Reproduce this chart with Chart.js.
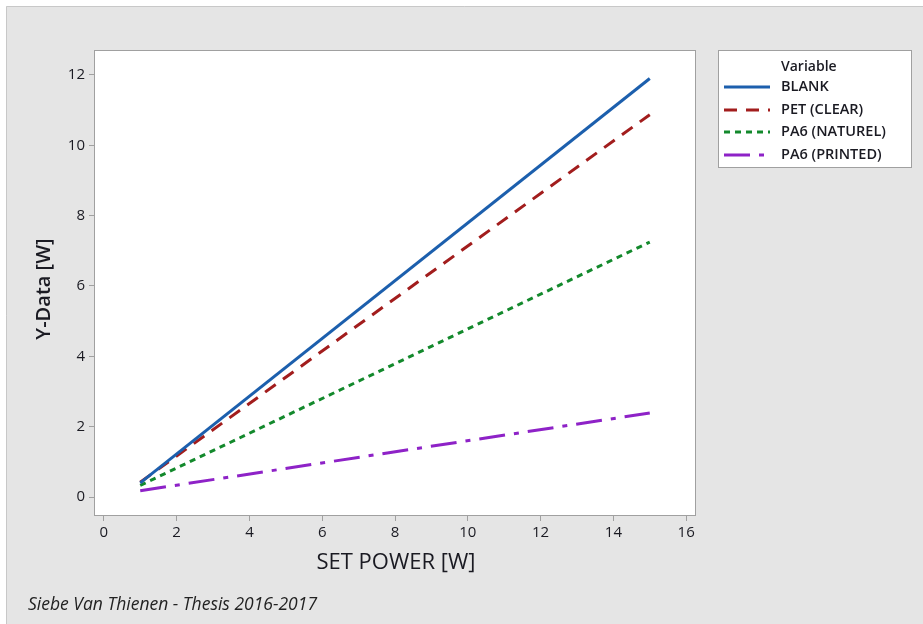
<!DOCTYPE html>
<html>
<head>
<meta charset="utf-8">
<script src="https://cdn.jsdelivr.net/npm/chart.js@4/dist/chart.umd.min.js"></script>
<style>
  html, body { margin: 0; padding: 0; background: #ffffff; }
  #wrap { position: absolute; left: 0; top: 0; width: 923px; height: 624px; }
</style>
</head>
<body>
<div id="wrap"><canvas id="c" width="923" height="624"></canvas></div>
<script>
// Set power values (W) at which each fitted line is evaluated
const setPower = [1, 15];

// Measured output power (W) for each sample
const blank = [0.40, 11.90];
const petClear = [0.42, 10.87];
const pa6Naturel = [0.33, 7.25];
const pa6Printed = [0.18, 2.39];

const seriesNames = ['BLANK', 'PET (CLEAR)', 'PA6 (NATUREL)', 'PA6 (PRINTED)'];
const xTicks = [0, 2, 4, 6, 8, 10, 12, 14, 16];
const yTicks = [0, 2, 4, 6, 8, 10, 12];

const FONT = '"Open Sans", "Noto Sans", "DejaVu Sans", sans-serif';
const TEXT = '#1a1a22';
const FRAME = '#a0a0a0';

const toPoints = (ys) => setPower.map((x, i) => ({ x: x, y: ys[i] }));

const styles = [
  { color: '#1c5fad', dash: [] },
  { color: '#a21d1d', dash: [13, 9] },
  { color: '#13892c', dash: [6, 5] },
  { color: '#8e22c7', dash: [26, 9, 5, 9] }
];
const values = [blank, petClear, pa6Naturel, pa6Printed];

const datasets = values.map((v, i) => ({
  label: seriesNames[i],
  data: toPoints(v),
  borderColor: styles[i].color,
  backgroundColor: styles[i].color,
  borderDash: styles[i].dash,
  borderWidth: 3,
  pointRadius: 0,
  fill: false,
  tension: 0
}));

// Page background, outer frame, axis titles, footer and legend box
const decorations = {
  id: 'decorations',
  beforeDraw(chart) {
    const ctx = chart.ctx;
    ctx.save();
    ctx.fillStyle = '#ffffff';
    ctx.fillRect(0, 0, chart.width, chart.height);
    ctx.fillStyle = '#e5e5e5';
    ctx.fillRect(6, 6, chart.width - 6, chart.height - 6);
    ctx.strokeStyle = '#c8c8c8';
    ctx.lineWidth = 1;
    ctx.beginPath();
    ctx.moveTo(6.5, chart.height);
    ctx.lineTo(6.5, 6.5);
    ctx.lineTo(chart.width, 6.5);
    ctx.stroke();
    const a = chart.chartArea;
    ctx.fillStyle = '#ffffff';
    ctx.fillRect(a.left, a.top, a.right - a.left, a.bottom - a.top);
    ctx.restore();
  },
  afterDraw(chart) {
    const ctx = chart.ctx;
    const a = chart.chartArea;
    ctx.save();
    // plot frame
    ctx.strokeStyle = FRAME;
    ctx.lineWidth = 1;
    ctx.strokeRect(a.left + 0.5, a.top + 0.5, a.right - a.left - 1, a.bottom - a.top - 1);

    // axis titles
    ctx.fillStyle = TEXT;
    ctx.font = '22px ' + FONT;
    ctx.textAlign = 'center';
    ctx.textBaseline = 'middle';
    ctx.fillText('SET POWER [W]', (a.left + a.right) / 2 + 1, 563);
    ctx.save();
    ctx.translate(44, (a.top + a.bottom) / 2 + 6);
    ctx.rotate(-Math.PI / 2);
    ctx.font = '600 20px ' + FONT;
    ctx.fillText('Y-Data [W]', 0, 0);
    ctx.restore();

    // footer
    ctx.font = 'italic 17.5px ' + FONT;
    ctx.textAlign = 'left';
    ctx.fillStyle = '#222222';
    ctx.fillText('Siebe Van Thienen - Thesis 2016-2017', 28, 605);

    // legend
    const lx = 718, ly = 50, lw = 194, lh = 118;
    ctx.fillStyle = '#ffffff';
    ctx.fillRect(lx, ly, lw, lh);
    ctx.strokeStyle = FRAME;
    ctx.strokeRect(lx + 0.5, ly + 0.5, lw - 1, lh - 1);
    ctx.fillStyle = TEXT;
    ctx.font = '600 14px ' + FONT;
    ctx.textAlign = 'left';
    ctx.fillText('Variable', 781, 67);
    ctx.font = '600 14.5px ' + FONT;
    const rows = [87, 110, 132, 155];
    chart.data.datasets.forEach((ds, i) => {
      const y = rows[i];
      ctx.strokeStyle = ds.borderColor;
      ctx.lineWidth = 3;
      ctx.setLineDash(ds.borderDash);
      ctx.beginPath();
      ctx.moveTo(724, y);
      ctx.lineTo(770, y);
      ctx.stroke();
      ctx.setLineDash([]);
      ctx.fillStyle = TEXT;
      ctx.fillText(ds.label, 781, y);
    });
    ctx.restore();
  }
};

new Chart(document.getElementById('c'), {
  type: 'line',
  data: { datasets: datasets },
  options: {
    responsive: false,
    animation: false,
    layout: { padding: { left: 0, top: 50, right: 227, bottom: 48 } },
    plugins: { legend: { display: false }, tooltip: { enabled: false } },
    scales: {
      x: {
        type: 'linear',
        min: -0.27,
        max: 16.27,
        afterBuildTicks: (s) => { s.ticks = xTicks.map(v => ({ value: v })); },
        afterFit: (s) => { s.height = 60; },
        border: { display: false },
        grid: { drawOnChartArea: false, drawTicks: true, tickLength: 5, color: FRAME },
        ticks: { color: TEXT, font: { family: FONT, size: 15 }, padding: 3, maxRotation: 0 }
      },
      y: {
        type: 'linear',
        min: -0.54,
        max: 12.71,
        afterBuildTicks: (s) => { s.ticks = yTicks.map(v => ({ value: v })); },
        afterFit: (s) => { s.width = 94; },
        border: { display: false },
        grid: { drawOnChartArea: false, drawTicks: true, tickLength: 5, color: FRAME },
        ticks: { color: TEXT, font: { family: FONT, size: 15 }, padding: 4 }
      }
    }
  },
  plugins: [decorations]
});
</script>
</body>
</html>
